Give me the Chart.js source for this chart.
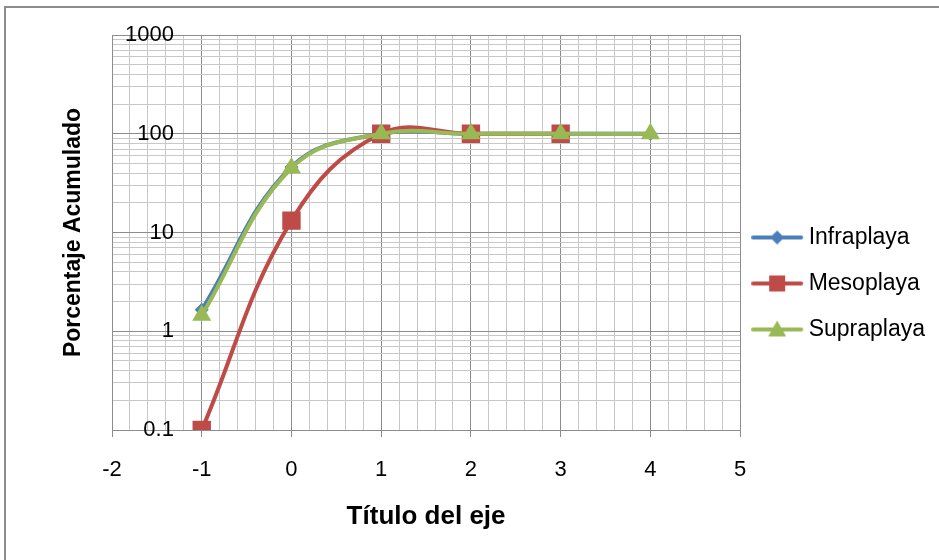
<!DOCTYPE html>
<html>
<head>
<meta charset="utf-8">
<script src="https://cdn.jsdelivr.net/npm/chart.js@4.4.0/dist/chart.umd.min.js"></script>
<style>
  html, body { margin: 0; padding: 0; background: #fff; overflow: hidden; }
  #frame { position: absolute; left: 4px; top: 6px; width: 1000px; height: 700px;
           border-left: 2px solid #8c8c8c; border-top: 2px solid #8c8c8c; }
  #wrap { position: absolute; left: 0; top: 0; width: 939px; height: 560px; }
</style>
</head>
<body>
<div id="frame"></div>
<div id="wrap"><canvas id="chart"></canvas></div>
<script>
// Data
const xValues = [-1, 0, 1, 2, 3, 4]
const infraplaya = [1.65, 46, 100, 100, 100, 100]
const mesoplaya = [0.1, 13.2, 100, 100, 100, null]
const supraplaya = [1.45, 45, 100, 100, 100, 100]
const seriesNames = ["Infraplaya", "Mesoplaya", "Supraplaya"]
const yDecades = [0.1, 1, 10, 100, 1000]
const xTickLabels = [-2, -1, 0, 1, 2, 3, 4, 5]

const colors = ["#4A7EBB", "#BE4B48", "#98B954"]
const font = "'Liberation Sans', Arial, sans-serif"

// all log grid lines: 1..9 of each decade
const yGrid = []
yDecades.forEach((d, i) => {
  if (i === yDecades.length - 1) { yGrid.push(d); return }
  for (let k = 1; k <= 9; k++) yGrid.push(+(d * k).toPrecision(3))
})

const toPoints = (vals) => xValues.map((x, i) => ({ x, y: vals[i] })).filter((p) => p.y !== null)

// legend icon: line with marker in the middle
function legendIcon(color, shape) {
  const c = document.createElement("canvas")
  c.width = 58
  c.height = 24
  const g = c.getContext("2d")
  g.strokeStyle = color
  g.lineWidth = 4
  g.lineCap = "round"
  g.beginPath()
  g.moveTo(2, 12)
  g.lineTo(50, 12)
  g.stroke()
  g.fillStyle = color
  g.beginPath()
  const cx = 26, cy = 12
  if (shape === "diamond") {
    g.moveTo(cx, cy - 7); g.lineTo(cx + 7, cy); g.lineTo(cx, cy + 7); g.lineTo(cx - 7, cy)
  } else if (shape === "square") {
    g.rect(cx - 8, cy - 8, 16, 16)
  } else {
    g.moveTo(cx, cy - 9); g.lineTo(cx + 9, cy + 7); g.lineTo(cx - 9, cy + 7)
  }
  g.closePath()
  g.fill()
  return c
}
const icons = [legendIcon(colors[0], "diamond"), legendIcon(colors[1], "square"), legendIcon(colors[2], "triangle")]

const isInt = (v) => Math.abs(v - Math.round(v)) < 1e-6
const isDecade = (v) => yDecades.some((d) => Math.abs(v - d) < d * 1e-6)

const ctx = document.getElementById("chart").getContext("2d")
new Chart(ctx, {
  type: "line",
  data: {
    datasets: [
      {
        label: seriesNames[0],
        data: toPoints(infraplaya),
        borderColor: colors[0],
        backgroundColor: colors[0],
        borderWidth: 4,
        pointStyle: "rectRot",
        pointRadius: 7,
        pointBorderWidth: 0,
        tension: 0.4,
        order: 2,
      },
      {
        label: seriesNames[1],
        data: toPoints(mesoplaya),
        borderColor: colors[1],
        backgroundColor: colors[1],
        borderWidth: 4,
        pointStyle: "rect",
        pointRadius: 13,
        pointBorderWidth: 0,
        tension: 0.4,
        order: 1,
      },
      {
        label: seriesNames[2],
        data: toPoints(supraplaya),
        borderColor: colors[2],
        backgroundColor: colors[2],
        borderWidth: 4,
        pointStyle: "triangle",
        pointRadius: 11,
        pointBorderWidth: 0,
        tension: 0.4,
        order: 0,
      },
    ],
  },
  options: {
    responsive: true,
    maintainAspectRatio: false,
    animation: false,
    layout: { padding: { left: 60, top: 35, right: 4, bottom: 28 } },
    plugins: {
      tooltip: { enabled: false },
      legend: {
        position: "right",
        labels: {
          usePointStyle: true,
          pointStyleWidth: 34,
          padding: 23,
          color: "#000",
          font: { family: font, size: 23 },
          generateLabels: (chart) =>
            chart.data.datasets.map((ds, i) => ({
              text: ds.label,
              pointStyle: icons[i],
              datasetIndex: i,
              hidden: false,
              fontColor: "#000",
              lineWidth: 0,
              strokeStyle: "transparent",
              fillStyle: "transparent",
            })),
        },
      },
    },
    scales: {
      x: {
        type: "linear",
        min: xTickLabels[0],
        max: xTickLabels[xTickLabels.length - 1],
        afterFit: (s) => { s.height = 102 },
        ticks: {
          stepSize: 0.2,
          autoSkip: false,
          maxRotation: 0,
          padding: 20,
          color: "#000",
          font: { family: font, size: 22 },
          callback: (v) => (isInt(v) ? String(Math.round(v)) : ""),
        },
        grid: {
          color: (c) => (isInt(c.tick.value) ? "#8c8c8c" : "#c8c8c8"),
          tickColor: (c) => (isInt(c.tick.value) ? "#8c8c8c" : "rgba(0,0,0,0)"),
          tickLength: 7,
          lineWidth: 1,
        },
        border: { color: "#8c8c8c" },
        title: {
          display: true,
          text: "Título del eje",
          color: "#000",
          padding: 0,
          font: { family: font, size: 26, weight: "bold" },
        },
      },
      y: {
        type: "logarithmic",
        min: yDecades[0],
        max: yDecades[yDecades.length - 1],
        afterFit: (s) => { s.width = 52 },
        afterBuildTicks: (s) => { s.ticks = yGrid.map((v) => ({ value: v })) },
        ticks: {
          autoSkip: false,
          mirror: true,
          crossAlign: "far",
          padding: 13,
          color: "#000",
          font: { family: font, size: 22 },
          callback: (v) => (isDecade(v) ? String(v) : ""),
        },
        grid: {
          color: (c) => (isDecade(c.tick.value) ? "#8c8c8c" : "#c8c8c8"),
          drawTicks: false,
          lineWidth: 1,
        },
        border: { color: "#8c8c8c" },
        title: {
          display: true,
          text: "Porcentaje Acumulado",
          color: "#000",
          padding: 0,
          font: { family: font, size: 23, weight: "bold" },
        },
      },
    },
  },
})
</script>
</body>
</html>
